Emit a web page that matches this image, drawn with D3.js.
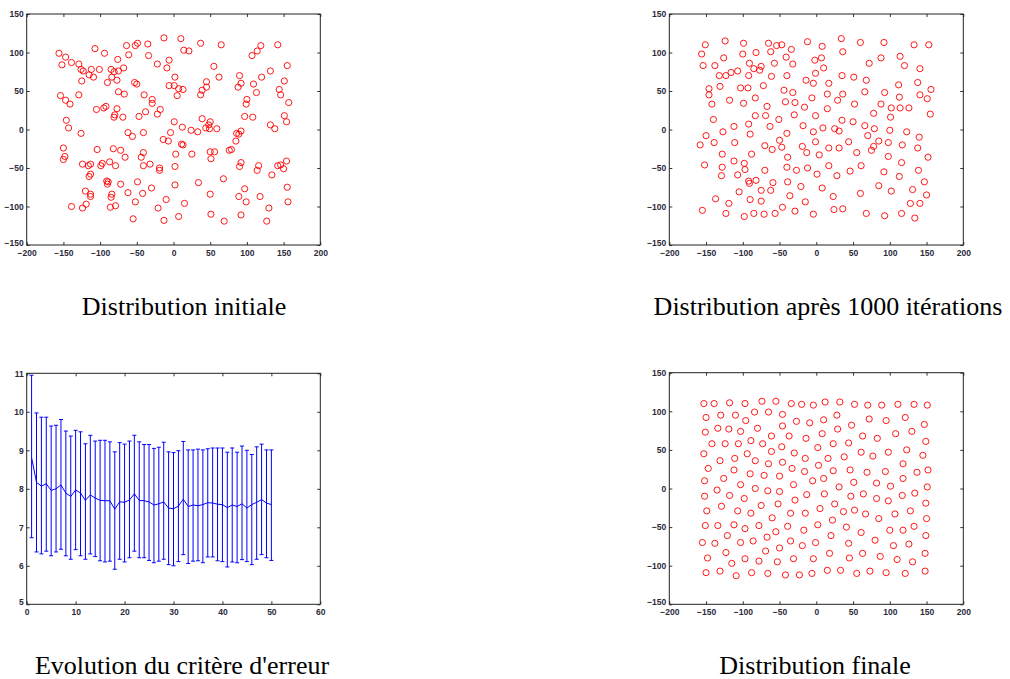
<!DOCTYPE html>
<html><head><meta charset="utf-8">
<script src="https://cdn.jsdelivr.net/npm/d3@7"></script>
<style>
html,body{margin:0;padding:0;background:#fff;}
svg{display:block;}
.tick text{font-family:"Liberation Sans",Arial,sans-serif;font-size:8.5px;fill:#2a2a3a;font-weight:bold;}
.title{font-family:"Liberation Serif","Times New Roman",serif;font-size:26px;fill:#000;}
</style></head>
<body>
<script>
// ---------- DATA ----------
const titles = ["Distribution initiale","Distribution après 1000 itérations","Evolution du critère d'erreur","Distribution finale"];
const scatterXTicks = [-200,-150,-100,-50,0,50,100,150,200];
const scatterYTicks = [-150,-100,-50,0,50,100,150];
const errXTicks = [0,10,20,30,40,50,60];
const errYTicks = [5,6,7,8,9,10,11];

const initialPoints = [
[-13,119],[-52,109],[-49,112],[-35,111],[-156,99],[-147,94],[-152,84],[-139,87],[-107,105],[-94,99],[-64,109],[-61,97],[-34,96],[-22,85],[-6,90],[-9,80],[-129,85],[-126,78],[-123,76],[-112,78],[-115,71],[-109,68],[-101,78],[-76,91],[-85,78],[-81,75],[-75,76],[-68,80],[-84,68],[-90,61],[-77,64],[-125,63],[-75,49],[-67,46],[-53,61],[-50,59],[-6,57],[-129,45],[-154,44],[-147,38],[-141,33],[-105,26],[-95,28],[-92,30],[-77,27],[-40,45],[-29,39],[-29,34],[-18,26],[-22,20],[-38,23],[-47,17],[-80,19],[-81,16],[-69,16],[-146,12],[-143,2],[-126,-5],[-62,-4],[-56,-9],[-41,-4],[-14,-13],[-7,-15],[-4,-4],[-150,-24],[-148,-35],[-150,-39],[-104,-26],[-82,-25],[-72,-27],[-66,-36],[-41,-30],[-44,-36],[-41,-47],[-32,-45],[-19,-50],[-19,-53],[-124,-45],[-116,-47],[-113,-45],[-97,-44],[-99,-47],[-87,-42],[-79,-47],[-113,-58],[-115,-61],[-91,-67],[-89,-68],[-90,-71],[-72,-71],[-49,-68],[-120,-80],[-113,-84],[-113,-87],[-84,-84],[-85,-88],[-62,-82],[-42,-83],[-30,-76],[-10,-91],[-52,-94],[-119,-97],[-139,-100],[-124,-102],[-86,-101],[-79,-99],[-21,-102],[-55,-116],[-13,-118],
[10,118],[14,103],[21,102],[37,112],[65,110],[107,96],[114,102],[119,109],[142,110],[55,82],[155,83],[90,70],[132,76],[120,68],[62,68],[2,68],[151,63],[45,62],[92,60],[88,55],[109,59],[1,57],[7,53],[13,52],[5,44],[45,55],[39,51],[37,45],[113,48],[144,52],[146,45],[100,39],[99,33],[157,35],[97,17],[108,16],[151,18],[154,10],[132,6],[138,1],[1,10],[39,14],[50,10],[48,6],[44,2],[49,1],[59,1],[12,3],[24,-1],[33,-3],[11,-19],[13,-20],[92,-2],[86,-5],[89,-6],[85,-15],[76,-27],[79,-26],[3,-32],[25,-32],[50,-29],[56,-29],[51,-38],[92,-43],[90,-48],[116,-47],[114,-53],[142,-47],[146,-46],[154,-41],[150,-51],[134,-59],[2,-48],[68,-64],[2,-72],[34,-69],[97,-77],[155,-75],[50,-84],[89,-87],[118,-87],[15,-96],[99,-94],[156,-94],[130,-102],[51,-110],[92,-111],[7,-113],[69,-119],[127,-119]
];

const iter1000Points = [
[-151,110],[-156,98],[-154,83],[-124,115],[-126,93],[-138,83],[-99,112],[-100,98],[-82,100],[-91,86],[-75,82],[-65,112],[-62,101],[-54,109],[-47,110],[-34,104],[-41,94],[-57,86],[-32,85],[-12,114],[-132,70],[-123,70],[-116,74],[-107,76],[-85,79],[-77,77],[-92,70],[-61,69],[-40,70],[-14,64],[-146,53],[-146,45],[-131,56],[-103,54],[-93,54],[-72,57],[-44,51],[-32,48],[-118,38],[-99,34],[-83,41],[-142,33],[-67,30],[-42,36],[-29,35],[-16,29],[-140,13],[-83,18],[-69,18],[-51,13],[-30,19],[-112,4],[-92,7],[-63,4],[-18,5],[-127,-3],[-150,-8],[-90,-6],[-40,-5],[-158,-20],[-139,-17],[-111,-17],[-70,-21],[-60,-26],[-50,-14],[-47,-23],[-19,-22],[-13,-30],[-128,-32],[-88,-32],[-39,-36],[-152,-46],[-112,-41],[-98,-44],[-97,-52],[-128,-49],[-129,-60],[-107,-59],[-40,-49],[-27,-53],[-12,-50],[-70,-53],[-92,-67],[-91,-70],[-82,-66],[-59,-69],[-39,-68],[-21,-74],[-105,-81],[-75,-79],[-62,-79],[-36,-86],[-137,-90],[-90,-91],[-75,-93],[-119,-96],[-15,-94],[-155,-105],[-46,-101],[-29,-106],[-123,-109],[-85,-109],[-71,-110],[-56,-109],[-98,-113],
[8,108],[34,118],[36,101],[60,113],[92,113],[133,110],[153,110],[-2,90],[7,93],[10,80],[72,86],[88,93],[114,95],[120,83],[141,79],[-1,73],[-4,60],[17,60],[35,70],[51,68],[68,64],[112,58],[138,61],[156,52],[-6,41],[15,46],[36,46],[29,38],[66,49],[93,48],[113,42],[141,45],[151,40],[15,27],[52,33],[88,33],[102,28],[114,28],[126,28],[-1,18],[78,21],[101,16],[155,20],[9,2],[25,1],[31,-2],[35,12],[50,10],[66,5],[79,1],[100,-1],[123,-3],[-4,-3],[-1,-16],[70,-8],[140,-10],[4,-33],[17,-24],[31,-24],[44,-16],[55,-30],[75,-27],[78,-22],[85,-15],[98,-17],[117,-20],[138,-24],[98,-35],[152,-36],[116,-43],[1,-58],[17,-47],[28,-60],[46,-54],[61,-47],[92,-55],[113,-61],[139,-53],[147,-68],[8,-76],[23,-87],[60,-83],[85,-73],[102,-80],[131,-78],[150,-85],[24,-104],[36,-103],[128,-96],[141,-96],[-4,-110],[68,-109],[93,-112],[116,-109],[134,-115]
];

const finalPoints = [
[-153,110],[-139,110],[-118,111],[-97,110],[-74,113],[-55,113],[-34,110],[-20,109],
[-150,92],[-130,95],[-110,95],[-96,88],[-84,99],[-65,99],[-46,96],[-27,87],[-9,85],
[-151,73],[-134,78],[-119,77],[-103,74],[-80,78],[-61,68],[-46,81],[-37,68],[-14,65],
[-142,58],[-124,58],[-106,58],[-89,62],[-73,58],[-61,48],[-47,54],[-30,46],[-15,39],
[-153,45],[-131,36],[-111,39],[-94,45],[-83,36],[-65,32],[-46,34],[-33,26],[-16,22],
[-147,26],[-112,24],[-90,19],[-71,17],[-50,16],[-31,5],
[-152,10],[-126,13],[-103,5],[-83,0],[-66,-3],[-50,-4],[-29,-15],[-13,-8],
[-152,-10],[-135,-2],[-118,-9],[-98,-13],[-75,-22],[-52,-20],
[-149,-29],[-129,-23],[-107,-29],[-89,-32],[-60,-38],[-35,-32],[-15,-32],
[-151,-48],[-134,-48],[-112,-47],[-97,-52],[-78,-48],[-55,-56],[-39,-49],[-17,-54],
[-155,-70],[-138,-71],[-121,-61],[-103,-70],[-86,-68],[-67,-63],[-35,-68],[-19,-74],
[-148,-90],[-123,-83],[-115,-97],[-97,-91],[-78,-94],[-69,-81],[-50,-77],[-53,-95],[-31,-91],
[-150,-109],[-131,-107],[-109,-113],[-88,-109],[-66,-110],[-42,-112],[-23,-112],
[-4,108],[12,112],[32,112],[52,109],[70,108],[89,108],[111,109],[133,109],[151,108],
[10,89],[28,95],[48,82],[72,90],[95,88],[121,92],[147,83],[29,77],
[8,71],[23,58],[2,53],[44,59],[63,68],[83,65],[108,71],[130,74],[149,61],
[16,39],[38,41],[61,47],[77,42],[98,47],[123,50],[145,43],
[3,30],[23,23],[46,24],[69,21],[94,22],[118,32],[137,21],[152,24],
[-5,10],[10,13],[31,2],[51,8],[82,7],[101,3],[118,13],[151,2],
[11,-7],[47,-10],[64,-7],[82,-13],[98,-16],[117,-9],[134,-6],[149,-19],
[5,-26],[25,-20],[37,-30],[52,-28],[67,-33],[85,-39],[107,-33],[128,-29],[150,-39],
[2,-47],[22,-41],[41,-50],[61,-57],[80,-67],[100,-54],[118,-54],[133,-49],[149,-61],
[-1,-70],[20,-61],[44,-71],[63,-84],[87,-88],[105,-74],[126,-72],[148,-84],
[-4,-91],[18,-84],[45,-90],[110,-92],[131,-95],
[-6,-110],[15,-106],[33,-106],[55,-110],[73,-107],[95,-109],[121,-110],[148,-107]
];

const iterations = d3.range(1,51);
const meanError = [8.81,8.17,8.07,8.13,7.96,8.0,8.1,7.89,7.8,7.97,7.89,7.7,7.84,7.76,7.7,7.69,7.69,7.47,7.66,7.65,7.71,7.87,7.7,7.69,7.66,7.58,7.61,7.66,7.5,7.48,7.55,7.73,7.54,7.58,7.56,7.59,7.64,7.63,7.6,7.59,7.51,7.58,7.54,7.61,7.5,7.59,7.65,7.72,7.63,7.59];
const upperError = [10.95,9.97,9.86,9.86,9.63,9.65,9.8,9.5,9.37,9.52,9.48,9.17,9.39,9.24,9.26,9.26,9.22,8.96,9.2,9.16,9.24,9.39,9.22,9.15,9.15,9.05,9.08,9.21,8.96,8.94,8.99,9.23,9.01,9.01,9.03,9.01,9.04,9.06,9.06,9.06,8.95,9.06,8.95,9.11,9.0,8.89,9.09,9.16,9.01,9.01];
const lowerError = [6.73,6.36,6.31,6.38,6.26,6.36,6.43,6.26,6.17,6.42,6.26,6.17,6.31,6.24,6.13,6.1,6.12,5.91,6.17,6.1,6.21,6.38,6.21,6.21,6.14,6.08,6.12,6.17,6.03,6.0,6.11,6.29,6.06,6.12,6.13,6.08,6.23,6.23,6.13,6.11,5.97,6.1,6.08,6.16,6.11,6.03,6.17,6.29,6.21,6.14];

// ---------- LAYOUT ----------
const W = 1010, H = 679;
const panels = [
  {x0:26.7, x1:320.3, y0:14, y1:245, tx:184, ty:315},
  {x0:669.3, x1:963.3, y0:14, y1:245, tx:828, ty:315},
  {x0:26.7, x1:320.3, y0:373.3, y1:604.3, tx:182, ty:674},
  {x0:669.3, x1:963.3, y0:372.7, y1:604.3, tx:815, ty:674}
];

const svg = d3.select("body").append("svg").attr("width",W).attr("height",H);
const fmt = d3.format("d");

function drawAxes(p, x, y, xt, yt){
  const g = svg.append("g");
  g.append("g").attr("transform",`translate(0,${p.y1})`)
    .call(d3.axisBottom(x).tickValues(xt).tickFormat(fmt).tickSizeInner(-3).tickSizeOuter(0).tickPadding(5))
    .call(s=>s.select(".domain").remove());
  const yl = g.append("g").attr("transform",`translate(${p.x0},0)`)
    .call(d3.axisLeft(y).tickValues(yt).tickFormat(fmt).tickSizeInner(-3).tickSizeOuter(0).tickPadding(3))
    .call(s=>s.select(".domain").remove());
  // lowest y label sits just above the corner x label
  yl.selectAll(".tick text").filter(d=>d===yt[0]).attr("dy","0.05em");
  g.append("g").attr("transform",`translate(0,${p.y0})`)
    .call(d3.axisTop(x).tickValues(xt).tickSizeInner(-3).tickSizeOuter(0).tickFormat(""))
    .call(s=>s.select(".domain").remove());
  g.append("g").attr("transform",`translate(${p.x1},0)`)
    .call(d3.axisRight(y).tickValues(yt).tickSizeInner(-3).tickSizeOuter(0).tickFormat(""))
    .call(s=>s.select(".domain").remove());
  g.selectAll(".tick line").attr("stroke","#333");
  g.append("rect").attr("x",p.x0).attr("y",p.y0).attr("width",p.x1-p.x0).attr("height",p.y1-p.y0)
    .attr("fill","none").attr("stroke","#222").attr("stroke-width",1);
}

function scatterPanel(p, pts, title){
  const x = d3.scaleLinear().domain([-200,200]).range([p.x0,p.x1]);
  const y = d3.scaleLinear().domain([-150,150]).range([p.y1,p.y0]);
  drawAxes(p, x, y, scatterXTicks, scatterYTicks);
  svg.append("g").selectAll("circle").data(pts).join("circle")
    .attr("cx",d=>x(d[0])).attr("cy",d=>y(d[1])).attr("r",3.1)
    .attr("fill","none").attr("stroke","#ff0000").attr("stroke-width",0.9);
  svg.append("text").attr("class","title").attr("x",p.tx).attr("y",p.ty).attr("text-anchor","middle").text(title);
}

scatterPanel(panels[0], initialPoints, titles[0]);
scatterPanel(panels[1], iter1000Points, titles[1]);
scatterPanel(panels[3], finalPoints, titles[3]);

// error panel
(function(){
  const p = panels[2];
  const x = d3.scaleLinear().domain([0,60]).range([p.x0,p.x1]);
  const y = d3.scaleLinear().domain([5,11]).range([p.y1,p.y0]);
  drawAxes(p, x, y, errXTicks, errYTicks);
  const g = svg.append("g").attr("stroke","#0000ff").attr("stroke-width",1).attr("fill","none");
  iterations.forEach((it,i)=>{
    const cx = x(it);
    g.append("line").attr("x1",cx).attr("x2",cx).attr("y1",y(lowerError[i])).attr("y2",y(upperError[i]));
    g.append("line").attr("x1",cx-2).attr("x2",cx+2).attr("y1",y(lowerError[i])).attr("y2",y(lowerError[i]));
    g.append("line").attr("x1",cx-2).attr("x2",cx+2).attr("y1",y(upperError[i])).attr("y2",y(upperError[i]));
  });
  const line = d3.line().x((d,i)=>x(iterations[i])).y(d=>y(d));
  g.append("path").datum(meanError).attr("d",line);
  svg.append("text").attr("class","title").attr("x",p.tx).attr("y",p.ty).attr("text-anchor","middle").text(titles[2]);
})();
</script>
</body></html>
